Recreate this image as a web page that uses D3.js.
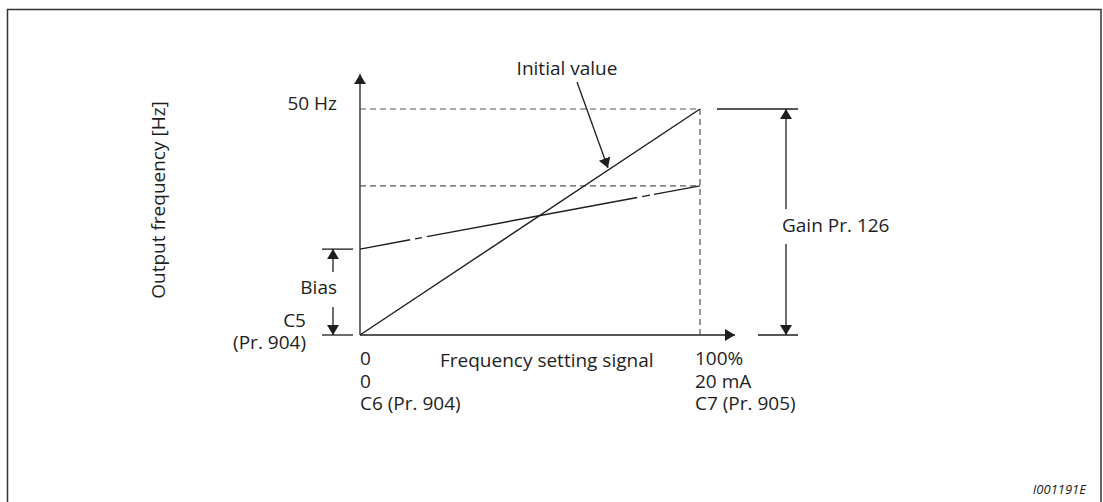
<!DOCTYPE html>
<html><head><meta charset="utf-8">
<script src="https://cdn.jsdelivr.net/npm/d3@7"></script>
<style>html,body{margin:0;padding:0;background:#fff;}svg{display:block;font-family:"Open Sans",sans-serif;}</style>
</head><body>
<svg id="chart" width="1103" height="502"></svg>
<script>
// ---- data ----
const signalPct = [0, 100];            // frequency setting signal (%)
const initialHz = [0, 50];             // initial value line
const adjustedHz = [19, 33];           // bias / gain adjusted line
const maxHz = 50;
const xTickLabels = [["0", "0", "C6 (Pr. 904)"], ["100%", "20 mA", "C7 (Pr. 905)"]];
const yTickLabel = "50 Hz";
const biasLabels = ["C5", "(Pr. 904)"];
const xTitle = "Frequency setting signal";
const yTitle = "Output frequency [Hz]";
const gainLabel = "Gain Pr. 126";
const biasLabel = "Bias";
const initLabel = "Initial value";
const figId = "I001191E";

const svg = d3.select("#chart");
const ink = "#1e1e1e";
const fs = "19px";

const x = d3.scaleLinear().domain([0, 100]).range([360, 700]);
const y = d3.scaleLinear().domain([0, maxHz]).range([335, 109]);

// border
svg.append("rect").attr("x", 7.5).attr("y", 9.5).attr("width", 1093.5).attr("height", 500)
  .attr("fill", "none").attr("stroke", "#333").attr("stroke-width", 1.5);

const defs = svg.append("defs");
defs.append("marker").attr("id", "ah").attr("viewBox", "0 0 10 14")
  .attr("refX", 10).attr("refY", 7).attr("markerWidth", 10).attr("markerHeight", 14)
  .attr("markerUnits", "userSpaceOnUse").attr("orient", "auto")
  .append("path").attr("d", "M0,1 L10,7 L0,13 Z").attr("fill", ink);

const line = (x1, y1, x2, y2) => svg.append("line")
  .attr("x1", x1).attr("y1", y1).attr("x2", x2).attr("y2", y2)
  .attr("stroke", ink).attr("stroke-width", 1.3);

// axes
line(x(0), y(0), x(110.3), y(0)).attr("marker-end", "url(#ah)");
line(x(0), y(0), x(0), y(57.7)).attr("marker-end", "url(#ah)");

// dashed guides
const dash = (x1, y1, x2, y2) => line(x1, y1, x2, y2).attr("stroke", "#555")
  .attr("stroke-width", 1.2).attr("stroke-dasharray", "6,4");
dash(x(0), y(maxHz), x(100), y(maxHz));
dash(x(0), y(adjustedHz[1]), x(100), y(adjustedHz[1]));
dash(x(100), y(maxHz), x(100), y(0));

// data lines
const lg = d3.line().x((d, i) => x(signalPct[i])).y(d => y(d));
svg.append("path").attr("d", lg(initialHz)).attr("fill", "none").attr("stroke", ink).attr("stroke-width", 1.4);
svg.append("path").attr("d", lg(adjustedHz)).attr("fill", "none").attr("stroke", ink).attr("stroke-width", 1.4)
  .attr("stroke-dasharray", "51,5,7,5,214,5,8,4,60");

// Initial value pointer
line(577, 82, 608, 168).attr("marker-end", "url(#ah)");
svg.append("text").attr("x", 567).attr("y", 75).attr("text-anchor", "middle")
  .attr("font-size", fs).attr("fill", ink).text(initLabel);

// gain dimension
line(717, y(maxHz), 798, y(maxHz));
line(758, y(0), 798, y(0));
line(786, 209, 786, y(maxHz)).attr("marker-end", "url(#ah)");
line(786, 244, 786, y(0)).attr("marker-end", "url(#ah)");
svg.append("text").attr("x", 782).attr("y", 232).attr("font-size", fs).attr("fill", ink).text(gainLabel);

// bias dimension
line(322, y(adjustedHz[0]), 353, y(adjustedHz[0]));
line(322, y(0), 353, y(0));
line(333, 272, 333, y(adjustedHz[0])).attr("marker-end", "url(#ah)");
line(333, 307, 333, y(0)).attr("marker-end", "url(#ah)");
svg.append("text").attr("x", 337).attr("y", 294).attr("text-anchor", "end")
  .attr("font-size", fs).attr("fill", ink).text(biasLabel);
biasLabels.forEach((t, i) => svg.append("text").attr("x", 306).attr("y", 327 + i * 22)
  .attr("text-anchor", "end").attr("font-size", fs).attr("fill", ink).text(t));

// y tick label
svg.append("text").attr("x", 337).attr("y", y(maxHz) + 1).attr("text-anchor", "end")
  .attr("font-size", fs).attr("fill", ink).text(yTickLabel);

// x tick labels
signalPct.forEach((v, i) => {
  xTickLabels[i].forEach((t, j) => svg.append("text")
    .attr("x", x(v) - (i === 1 ? 5 : 0)).attr("y", 365 + j * 22.5)
    .attr("font-size", fs).attr("fill", ink).text(t));
});

// axis titles
svg.append("text").attr("x", 440).attr("y", 367).attr("font-size", fs).attr("fill", ink).text(xTitle);
svg.append("text").attr("transform", "translate(165,200) rotate(-90)").attr("text-anchor", "middle")
  .attr("font-size", fs).attr("fill", ink).text(yTitle);

// figure id
svg.append("text").attr("x", 1086).attr("y", 494).attr("text-anchor", "end")
  .attr("font-size", "13px").attr("font-style", "italic").attr("fill", ink).text(figId);
</script>
</body></html>
